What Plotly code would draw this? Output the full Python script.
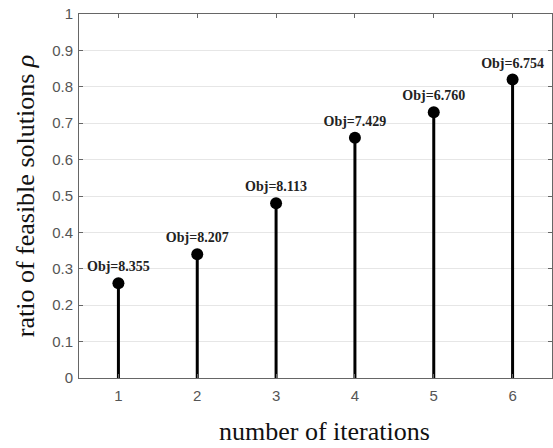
import plotly.graph_objects as go

iterations = [1, 2, 3, 4, 5, 6]
ratio = [0.26, 0.34, 0.48, 0.66, 0.73, 0.82]
obj_labels = ["Obj=8.355", "Obj=8.207", "Obj=8.113", "Obj=7.429", "Obj=6.760", "Obj=6.754"]
y_ticks = [0, 0.1, 0.2, 0.3, 0.4, 0.5, 0.6, 0.7, 0.8, 0.9, 1]
y_tick_text = ["0", "0.1", "0.2", "0.3", "0.4", "0.5", "0.6", "0.7", "0.8", "0.9", "1"]

stem_x, stem_y = [], []
for xv, yv in zip(iterations, ratio):
    stem_x += [xv, xv, None]
    stem_y += [0, yv, None]

fig = go.Figure()
fig.add_trace(go.Scatter(x=stem_x, y=stem_y, mode="lines",
                         line=dict(color="black", width=3), hoverinfo="skip", showlegend=False))
fig.add_trace(go.Scatter(x=iterations, y=ratio, mode="markers+text",
                         marker=dict(color="black", size=12),
                         text=["<b>%s</b>" % t for t in obj_labels],
                         textposition="top center",
                         textfont=dict(family="Liberation Serif, Times New Roman, serif", size=14, color="#222"),
                         showlegend=False))

axis_common = dict(showline=True, linecolor="#666", linewidth=1, mirror="ticks",
                   ticks="inside", ticklen=4, tickcolor="#666",
                   tickfont=dict(family="Liberation Sans, Arial, sans-serif", size=15, color="#555"),
                   zeroline=False)

fig.update_xaxes(range=[0.5, 6.5], tickvals=iterations, showgrid=False,
                 ticklabelstandoff=4, **axis_common)
fig.update_yaxes(range=[0, 1], tickvals=y_ticks, ticktext=y_tick_text,
                 showgrid=True, gridcolor="#e6e6e6", gridwidth=1,
                 ticklabelstandoff=2,
                 title=dict(text="ratio of feasible solutions <i>ρ</i>",
                            font=dict(family="Liberation Serif, Times New Roman, serif", size=26, color="#111"),
                            standoff=10),
                 **axis_common)

fig.add_annotation(text="number of iterations", xref="paper", yref="paper",
                   x=0.52, y=-0.148, xanchor="center", yanchor="middle", showarrow=False,
                   font=dict(family="Liberation Serif, Times New Roman, serif", size=26, color="#111"))

fig.update_layout(width=553, height=448, margin=dict(l=79, r=1, t=14, b=70),
                  plot_bgcolor="white", paper_bgcolor="white")

fig.write_html("out.html")
